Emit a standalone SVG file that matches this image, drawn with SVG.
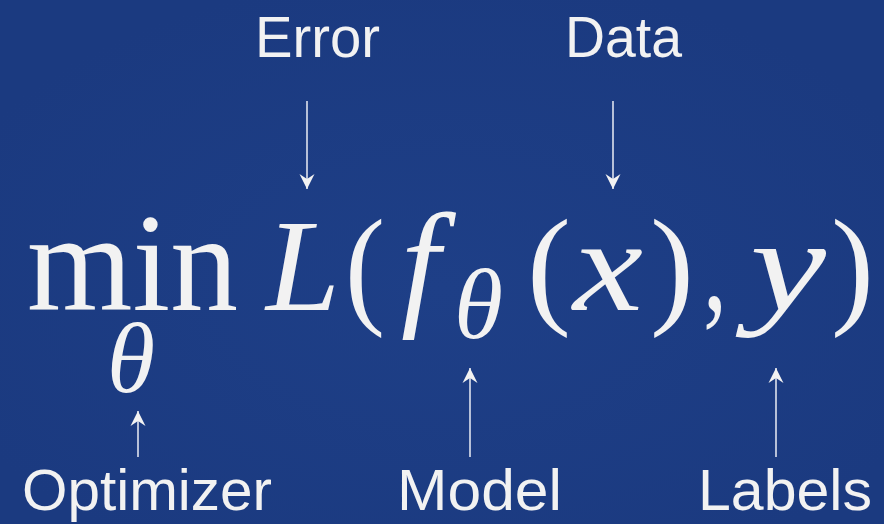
<svg xmlns="http://www.w3.org/2000/svg" width="884" height="524" viewBox="0 0 884 524">
  <defs>
    <radialGradient id="bg" cx="0.5" cy="0.55" r="0.6">
      <stop offset="0" stop-color="#1e3f87"/>
      <stop offset="1" stop-color="#1b3a80"/>
    </radialGradient>
    <marker id="ah" markerUnits="userSpaceOnUse" markerWidth="20" markerHeight="20" viewBox="-16 -10 20 20" refX="0" refY="0" orient="auto">
      <path d="M0,0 L-15,-7.5 L-10,0 L-15,7.5 Z" fill="#f2f2f2"/>
    </marker>
    <style>
      .lbl { font-family: "Liberation Sans", "Roboto", sans-serif; font-size: 58px; fill: #f2f2f2; }
      .m { font-family: "Liberation Serif", "DejaVu Serif", serif; fill: #f2f2f2; }
      .it { font-style: italic; }
      .arrow { stroke: #dfe3ee; stroke-width: 1.6; fill: none; marker-end: url(#ah); }
    </style>
  </defs>
  <rect width="884" height="524" fill="url(#bg)"/>

  <g id="formula">
    <text class="m" x="27" y="310" font-size="140" textLength="211" lengthAdjust="spacingAndGlyphs">min</text>
    <text class="m it" x="107" y="392" font-size="100" textLength="48" lengthAdjust="spacingAndGlyphs">θ</text>
    <text class="m it" x="266" y="310" font-size="132" textLength="74" lengthAdjust="spacingAndGlyphs">L</text>
    <text class="m" x="345" y="310" font-size="132" textLength="40" lengthAdjust="spacingAndGlyphs">(</text>
    <text class="m it" x="401" y="310" font-size="140">f</text>
    <text class="m it" x="454" y="338" font-size="100" textLength="49" lengthAdjust="spacingAndGlyphs">θ</text>
    <text class="m" x="527" y="310" font-size="132" textLength="44" lengthAdjust="spacingAndGlyphs">(</text>
    <text class="m it" x="573" y="310" font-size="132" textLength="70" lengthAdjust="spacingAndGlyphs">x</text>
    <text class="m" x="650" y="310" font-size="132" textLength="44" lengthAdjust="spacingAndGlyphs">)</text>
    <text class="m" x="703" y="310" font-size="132" textLength="24" lengthAdjust="spacingAndGlyphs">,</text>
    <text class="m it" x="750" y="310" font-size="132" textLength="76" lengthAdjust="spacingAndGlyphs">y</text>
    <text class="m" x="831" y="310" font-size="132" textLength="43" lengthAdjust="spacingAndGlyphs">)</text>
  </g>

  <g id="error"><text class="lbl" x="255" y="57" textLength="125" lengthAdjust="spacingAndGlyphs">Error</text></g>
  <g id="data"><text class="lbl" x="565" y="57" textLength="117" lengthAdjust="spacingAndGlyphs">Data</text></g>
  <g id="optimizer"><text class="lbl" x="22" y="510" textLength="250" lengthAdjust="spacingAndGlyphs">Optimizer</text></g>
  <g id="model"><text class="lbl" x="397" y="510" textLength="165" lengthAdjust="spacingAndGlyphs">Model</text></g>
  <g id="labels"><text class="lbl" x="698" y="510" textLength="174" lengthAdjust="spacingAndGlyphs">Labels</text></g>

  <g id="connectors">
    <line class="arrow" x1="307" y1="101" x2="307" y2="189"/>
    <line class="arrow" x1="613" y1="101" x2="613" y2="189"/>
    <line class="arrow" x1="138" y1="457" x2="138" y2="411"/>
    <line class="arrow" x1="470" y1="457" x2="470" y2="368"/>
    <line class="arrow" x1="776" y1="457" x2="776" y2="368"/>
  </g>
</svg>
